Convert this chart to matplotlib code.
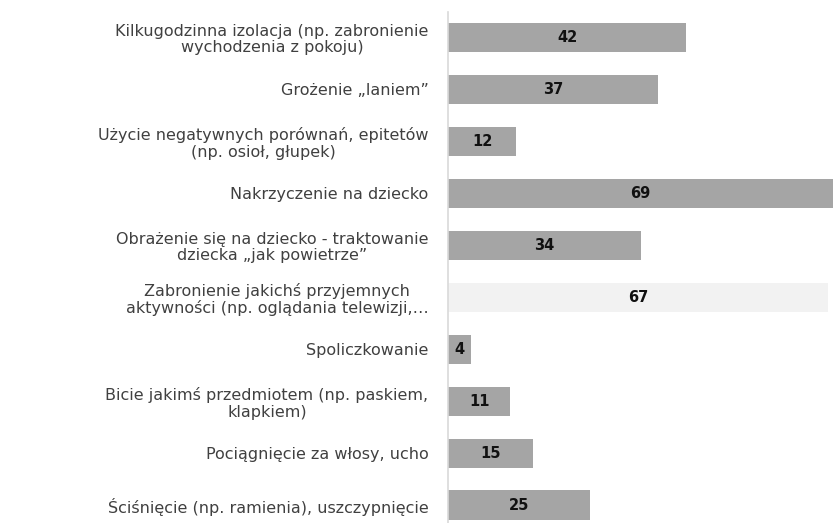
import matplotlib.pyplot as plt
import numpy as np

labels = [
    "Kilkugodzinna izolacja (np. zabronienie\nwychodzenia z pokoju)",
    "Grożenie „laniem”",
    "Użycie negatywnych porównań, epitetów\n(np. osioł, głupek)",
    "Nakrzyczenie na dziecko",
    "Obrażenie się na dziecko - traktowanie\ndziecka „jak powietrze”",
    "Zabronienie jakichś przyjemnych\naktywności (np. oglądania telewizji,…",
    "Spoliczkowanie",
    "Bicie jakimś przedmiotem (np. paskiem,\nklapkiem)",
    "Pociągnięcie za włosy, ucho",
    "Ściśnięcie (np. ramienia), uszczypnięcie",
]
values = [42, 37, 12, 69, 34, 67, 4, 11, 15, 25]
bar_colors = ['#a5a5a5'] * 5 + ['#f2f2f2'] + ['#a5a5a5'] * 4

plt.rcParams['font.family'] = ['DejaVu Sans']

fig = plt.figure(figsize=(8.33, 5.23), dpi=100)
# axes from x=448px to the right edge; rows ~52px apart
ax = fig.add_axes([448 / 833, 1 - 531 / 523, 1 - 448 / 833, (531 - 11.5) / 523])

y = np.arange(len(values))
ax.barh(y, values, height=0.56, color=bar_colors, zorder=2)
xmax = 67.8
ax.set_xlim(0, xmax)
ax.set_ylim(len(values) - 0.5, -0.5)

for yi, v in zip(y, values):
    ax.text(min(v, xmax) / 2, yi, str(v), ha='center', va='center',
            fontsize=10.5, fontweight='bold', color='#111111', zorder=3)

ax.set_yticks(y)
ax.set_yticklabels(labels, fontsize=11.5, color='#404040', multialignment='center',
                   linespacing=1.12)
ax.tick_params(axis='y', length=0, pad=14)
ax.set_xticks([])

for s in ['top', 'right', 'bottom']:
    ax.spines[s].set_visible(False)
ax.spines['left'].set_color('#d9d9d9')
ax.spines['left'].set_linewidth(1.2)

fig.savefig('out.png', dpi=100)
